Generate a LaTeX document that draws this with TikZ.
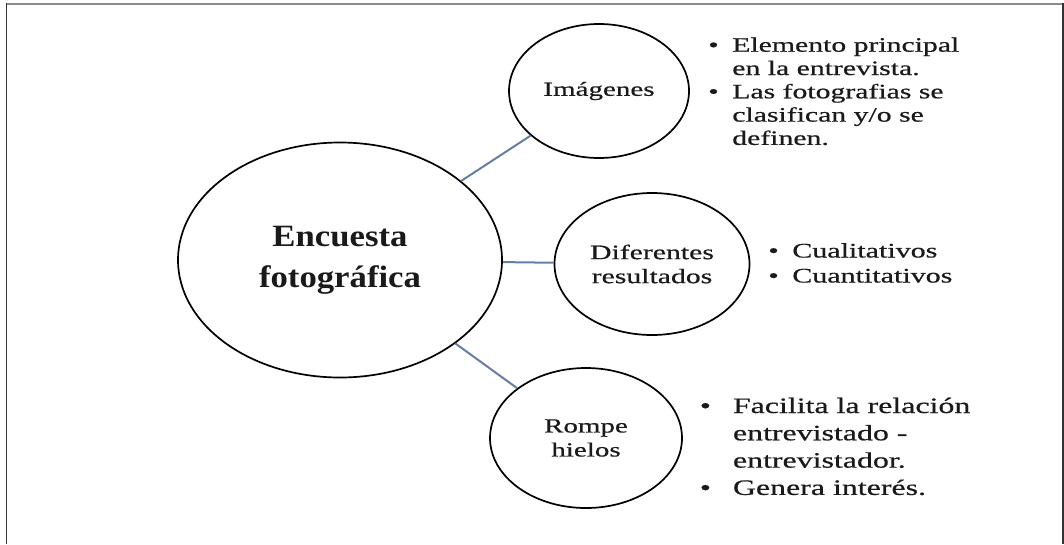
\documentclass[tikz,border=0pt]{standalone}
\usepackage{fontspec}
\setmainfont{Liberation Serif}[FakeStretch=1.45,FakeBold=0.6]
\newfontfamily\titlefont{Liberation Serif}[FakeStretch=1.12]
\usetikzlibrary{shapes}
\definecolor{linkblue}{RGB}{100,126,166}
\definecolor{inkgray}{RGB}{26,26,26}
\definecolor{framegray}{RGB}{140,140,140}

\tikzset{
  bubble/.style={draw=black, line width=1.7pt, ellipse, inner sep=0pt, align=center, text=inkgray},
  link/.style={draw=linkblue, line width=2pt},
  notes/.style={anchor=base west, inner sep=0pt, text=inkgray, align=left},
}

\begin{document}
\begin{tikzpicture}[x=1pt,y=-1pt,semithick]
  \useasboundingbox (0,0) rectangle (1064,544);
  % frame
  \draw[framegray, line width=2pt] (6,4) -- (1064,4);
  \draw[black!80, line width=1.5pt] (6.5,3) -- (6.5,544);
  \draw[black!80, line width=1.5pt] (1063,3) -- (1063,544);

  \node[bubble, minimum width=324pt, minimum height=235pt, font=\titlefont\bfseries\fontsize{31}{41}\selectfont] (encuesta) at (340,260) {Encuesta\\fotográfica};

  \node[bubble, minimum width=180pt, minimum height=134pt, font=\fontsize{20}{24}\selectfont] (imagenes) at (599,91) {Imágenes};
  \node[bubble, minimum width=195pt, minimum height=142pt, font=\fontsize{20.5}{24}\selectfont] (resultados) at (652,264) {Diferentes\\resultados};
  \node[bubble, minimum width=192pt, minimum height=140pt, font=\fontsize{20}{24}\selectfont] (rompe) at (586,438) {Rompe\\hielos};

  \draw[link] (encuesta) -- (imagenes);
  \draw[link] (encuesta) -- (resultados);
  \draw[link] (encuesta) -- (rompe);

  \node[notes, font=\fontsize{20.5}{23.3}\selectfont] (notasimg) at (708,51.7) {\begin{tabular}[t]{@{}l@{\hspace{13.6pt}}l@{}}
    •&Elemento principal\\
     &en la entrevista.\\
    •&Las fotografias se\\
     &clasifican y/o se\\
     &definen.
  \end{tabular}};
  \node[notes, font=\fontsize{20.7}{25}\selectfont] (notasres) at (768,257.5) {\begin{tabular}[t]{@{}l@{\hspace{13.5pt}}l@{}}
    •&Cualitativos\\
    •&Cuantitativos
  \end{tabular}};
  \node[notes, font=\fontsize{22}{27.3}\selectfont] (notasrom) at (699.5,413) {\begin{tabular}[t]{@{}l@{\hspace{22pt}}l@{}}
    •&Facilita la relación\\
     &entrevistado -\\
     &entrevistador.\\
    •&Genera interés.
  \end{tabular}};
\end{tikzpicture}
\end{document}
